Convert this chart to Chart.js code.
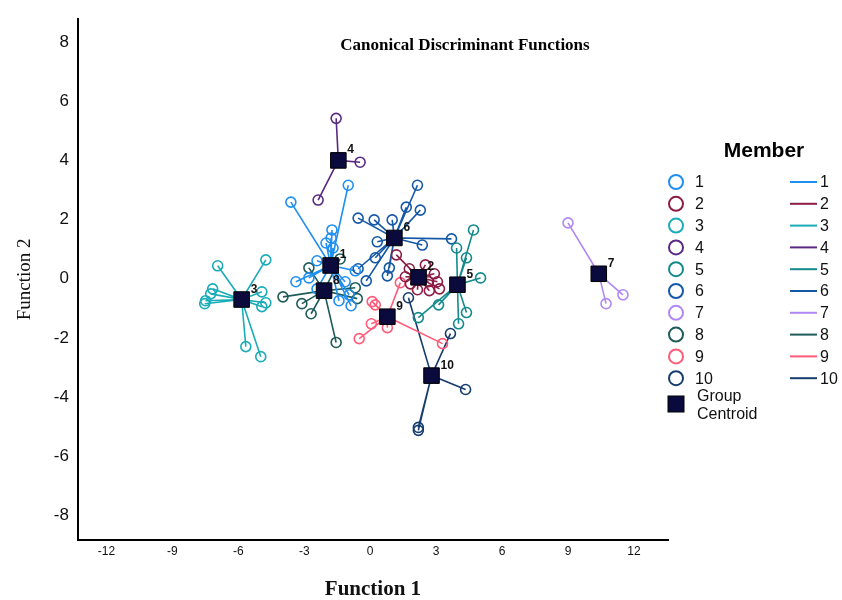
<!DOCTYPE html>
<html>
<head>
<meta charset="utf-8">
<script src="https://cdn.jsdelivr.net/npm/chart.js@4"></script>
<style>
  body { margin: 0; background: #fff; }
</style>
</head>
<body>
<canvas id="discCanvas" width="842" height="600"></canvas>
<script>
// group names / colours
const groups = ["1", "2", "3", "4", "5", "6", "7", "8", "9", "10"];
const groupColors = ["#1f8ff0", "#8c1c45", "#1aacb8", "#5a2a82", "#148a8c",
                     "#1558a8", "#b088f5", "#1e5c5a", "#ff5c7a", "#173d6e"];

// group centroids
const centroidX = [-1.8, 2.2, -5.85, -1.45, 3.97, 1.1, 10.4, -2.1, 0.78, 2.79];
const centroidY = [0.45, 0.05, -0.7, 4.0, -0.2, 1.38, 0.17, -0.4, -1.28, -3.27];

// member scores (Function 1 / Function 2), one list per group
const memberX = [
  [-3.61, -1.0, -1.74, -1.78, -2.01, -1.69, -3.38, -2.79, -2.42, -1.14, -0.96, -0.87, -0.68, -1.42, -2.42],
  [1.19, 1.78, 2.51, 2.92, 3.06, 3.15, 2.69, 2.15, 1.83, 1.6, 2.65],
  [-4.75, -6.94, -7.17, -7.26, -7.49, -7.53, -4.93, -4.75, -4.93, -5.66, -4.98],
  [-1.55, -0.46, -2.37],
  [4.7, 3.93, 4.38, 5.02, 4.38, 4.02, 3.11, 2.19],
  [2.15, 1.64, 2.28, 1.0, 0.18, -0.55, 3.7, 2.37, 0.32, 0.23, -0.55, -0.18, 0.87, 0.78],
  [9.0, 11.5, 10.73],
  [-3.97, -3.11, -2.69, -1.55, -0.68, -0.59, -2.79, -1.37],
  [0.09, 0.23, 1.37, 0.05, 0.78, -0.5, 3.29],
  [1.74, 3.65, 4.34, 2.19, 2.19]
];
const memberY = [
  [2.59, 3.16, 1.65, 1.38, 1.21, 1.04, -0.1, 0.03, -0.34, -0.1, -0.54, -0.91, 0.27, -0.74, 0.61],
  [0.81, 0.34, 0.47, 0.17, -0.1, -0.34, -0.4, -0.37, -0.17, 0.07, -0.1],
  [0.64, 0.44, -0.34, -0.51, -0.74, -0.84, -0.44, -0.81, -0.94, -2.29, -2.63],
  [5.42, 3.94, 2.66],
  [1.65, 1.04, 0.71, 0.03, -1.14, -1.52, -0.88, -1.31],
  [3.16, 2.42, 2.32, 1.99, 1.99, 2.05, 1.35, 1.14, 1.25, 0.71, 0.34, -0.07, 0.37, 0.1],
  [1.89, -0.54, -0.84],
  [-0.61, -0.84, -1.18, -2.15, -0.3, -0.67, 0.37, 0.67],
  [-0.77, -0.88, -0.13, -1.52, -1.65, -2.02, -2.19],
  [-0.64, -1.85, -3.74, -5.02, -5.12]
];

// axis ticks
const xTicks = [-12, -9, -6, -3, 0, 3, 6, 9, 12];
const yTicks = [-8, -6, -4, -2, 0, 2, 4, 6, 8];

const centroidFill = "#0a0a3c";

const datasets = [];
groups.forEach((g, i) => {
  // lines from centroid to every member (star)
  const star = [];
  memberX[i].forEach((mx, j) => {
    star.push({x: centroidX[i], y: centroidY[i]});
    star.push({x: mx, y: memberY[i][j]});
  });
  datasets.push({
    label: g + " line",
    data: star,
    showLine: true,
    borderColor: groupColors[i],
    borderWidth: 1.6,
    pointRadius: 0,
    order: 2
  });
  datasets.push({
    label: g,
    data: memberX[i].map((mx, j) => ({x: mx, y: memberY[i][j]})),
    pointStyle: 'circle',
    pointRadius: 5,
    pointBorderWidth: 1.6,
    borderColor: groupColors[i],
    backgroundColor: 'rgba(255,255,255,0)',
    order: 1
  });
});
datasets.push({
  label: "Group Centroid",
  data: centroidX.map((cx, i) => ({x: cx, y: centroidY[i]})),
  pointStyle: 'rect',
  pointRadius: 11,
  pointBorderWidth: 1,
  borderColor: "#000",
  backgroundColor: centroidFill,
  order: 0
});

// centroid numbers, title and the two-column legend
const extrasPlugin = {
  id: 'extras',
  afterDatasetsDraw(chart) {
    const ctx = chart.ctx;
    const xs = chart.scales.x, ys = chart.scales.y;
    ctx.save();
    ctx.fillStyle = "#111";
    ctx.font = "bold 12px 'Liberation Sans', Arial";
    ctx.textAlign = "left";
    ctx.textBaseline = "alphabetic";
    groups.forEach((g, i) => {
      const px = xs.getPixelForValue(centroidX[i]);
      const py = ys.getPixelForValue(centroidY[i]);
      ctx.fillText(g, px + 9, py - 7);
    });

    // chart title inside plot
    ctx.font = "bold 17px 'Liberation Serif', 'Times New Roman', serif";
    ctx.textAlign = "center";
    ctx.fillStyle = "#000";
    ctx.fillText("Canonical Discriminant Functions", 465, 50);

    // legend
    ctx.font = "bold 21px 'Liberation Sans', Arial";
    ctx.fillText("Member", 764, 157);
    ctx.font = "16px 'Liberation Sans', Arial";
    ctx.textAlign = "left";
    ctx.textBaseline = "middle";
    groups.forEach((g, i) => {
      const y = 182 + i * 21.8;
      ctx.strokeStyle = groupColors[i];
      ctx.lineWidth = 2;
      ctx.beginPath();
      ctx.arc(676, y, 7, 0, Math.PI * 2);
      ctx.stroke();
      ctx.fillStyle = "#111";
      ctx.fillText(g, 695, y + 1);
      ctx.lineWidth = 2;
      ctx.beginPath();
      ctx.moveTo(790, y);
      ctx.lineTo(817, y);
      ctx.stroke();
      ctx.fillText(g, 820, y + 1);
    });
    const gy = 404;
    ctx.fillStyle = centroidFill;
    ctx.fillRect(668, gy - 8, 16, 16);
    ctx.strokeStyle = "#000";
    ctx.lineWidth = 1;
    ctx.strokeRect(668, gy - 8, 16, 16);
    ctx.fillStyle = "#111";
    ctx.fillText("Group", 697, gy - 7);
    ctx.fillText("Centroid", 697, gy + 11);
    ctx.restore();
  }
};

new Chart(document.getElementById("discCanvas"), {
  type: 'scatter',
  data: { datasets: datasets },
  plugins: [extrasPlugin],
  options: {
    responsive: false,
    animation: false,
    layout: { padding: { top: 4, right: 174, bottom: 0, left: 14 } },
    plugins: {
      legend: { display: false },
      tooltip: { enabled: false }
    },
    scales: {
      x: {
        type: 'linear',
        min: -13.3,
        max: 13.55,
        afterBuildTicks: (scale) => { scale.ticks = xTicks.map(v => ({value: v})); },
        grid: { display: false, drawTicks: false },
        border: { display: true, color: "#000", width: 2 },
        ticks: {
          color: "#111",
          padding: 5,
          font: { family: "'Liberation Sans', Arial", size: 12 }
        },
        title: {
          display: true,
          text: "Function 1",
          color: "#111",
          padding: { top: 15, bottom: 0 },
          font: { family: "'Liberation Serif', 'Times New Roman', serif", size: 21, weight: 'bold', lineHeight: 1.0 }
        }
      },
      y: {
        type: 'linear',
        min: -8.81,
        max: 8.77,
        afterBuildTicks: (scale) => { scale.ticks = yTicks.map(v => ({value: v})); },
        grid: { display: false, drawTicks: false },
        border: { display: true, color: "#000", width: 2 },
        ticks: {
          color: "#111",
          padding: 9,
          font: { family: "'Liberation Sans', Arial", size: 17 }
        },
        title: {
          display: true,
          text: "Function 2",
          color: "#111",
          padding: { top: 0, bottom: 8 },
          font: { family: "'Liberation Serif', 'Times New Roman', serif", size: 19 }
        }
      }
    }
  }
});
</script>
</body>
</html>
